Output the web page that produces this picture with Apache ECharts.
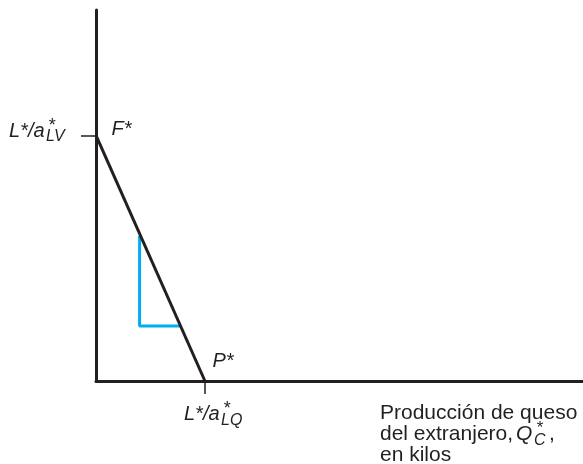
<!DOCTYPE html>
<html>
<head>
<meta charset="utf-8">
<script src="https://cdn.jsdelivr.net/npm/echarts@6/dist/echarts.min.js"></script>
<style>
  html, body { margin: 0; padding: 0; background: #fff; }
  #chart { width: 583px; height: 464px; }
</style>
</head>
<body>
<div id="chart"></div>
<script>
/* ---------- data ---------- */
// frontier from F* (on the vertical axis) to P* (on the horizontal axis)
const frontier = [[0, 1], [1, 0]];
const pointLabels = ['F*', 'P*'];
// blue slope triangle under the frontier
const slopeTriangle = [[0.40, 0.59], [0.40, 0.224], [0.77, 0.224]];
// intercept ticks
const xTicks = [1];
const yTicks = [1];

const ink = '#231f20';
const blue = '#00aeef';
const fam = '"Liberation Sans", Arial, Helvetica, sans-serif';

/* ---------- chart ---------- */
const chart = echarts.init(document.getElementById('chart'));

chart.setOption({
  animation: false,
  grid: { left: 96, right: 0, top: 10, bottom: 83 },
  xAxis: {
    type: 'value',
    min: 0,
    max: 4.47,
    splitLine: { show: false },
    axisLine: { show: true, lineStyle: { color: ink, width: 3 } },
    axisTick: { show: true, customValues: xTicks, length: 13, lineStyle: { color: ink, width: 1.5 } },
    axisLabel: { show: false }
  },
  yAxis: {
    type: 'value',
    min: 0,
    max: 1.51,
    splitLine: { show: false },
    axisLine: { show: true, lineStyle: { color: ink, width: 3 } },
    axisTick: { show: true, customValues: yTicks, length: 15, lineStyle: { color: ink, width: 1.5 } },
    axisLabel: { show: false }
  },
  series: [
    {
      type: 'line',
      data: frontier,
      symbol: 'none',
      lineStyle: { color: ink, width: 3 },
      z: 3
    },
    {
      type: 'line',
      data: slopeTriangle,
      symbol: 'none',
      lineStyle: { color: blue, width: 3 },
      z: 2
    },
    {
      type: 'scatter',
      data: frontier,
      symbolSize: 1,
      itemStyle: { color: 'rgba(0,0,0,0)', opacity: 1 },
      label: {
        show: true,
        formatter: (p) => pointLabels[p.dataIndex],
        fontFamily: fam,
        fontStyle: 'italic',
        fontSize: 20,
        color: ink,
        opacity: 1,
        position: 'right'
      },
      labelLayout: (p) => (p.dataIndex === 0 ? { dx: 10, dy: -6 } : { dx: 2, dy: -20 })
    }
  ],
  graphic: [
    // y intercept label  L*/a*_LV
    { type: 'text', x: 9, y: 121, style: { text: 'L*/a', font: 'italic 20px ' + fam, fill: ink } },
    { type: 'text', x: 48, y: 117, style: { text: '*', font: 'italic 18px ' + fam, fill: ink } },
    { type: 'text', x: 46, y: 129, style: { text: 'LV', font: 'italic 16px ' + fam, fill: ink } },
    // x intercept label  L*/a*_LQ
    { type: 'text', x: 184, y: 404, style: { text: 'L*/a', font: 'italic 20px ' + fam, fill: ink } },
    { type: 'text', x: 223, y: 400, style: { text: '*', font: 'italic 18px ' + fam, fill: ink } },
    { type: 'text', x: 221, y: 413, style: { text: 'LQ', font: 'italic 16px ' + fam, fill: ink } },
    // axis title
    { type: 'text', x: 380, y: 403, style: { text: 'Producción de queso', font: '21px ' + fam, fill: ink } },
    { type: 'text', x: 380, y: 424, style: { text: 'del extranjero,', font: '21px ' + fam, fill: ink } },
    { type: 'text', x: 516, y: 424, style: { text: 'Q', font: 'italic 21px ' + fam, fill: ink } },
    { type: 'text', x: 536, y: 420, style: { text: '*', font: 'italic 17px ' + fam, fill: ink } },
    { type: 'text', x: 534, y: 433, style: { text: 'C', font: 'italic 16px ' + fam, fill: ink } },
    { type: 'text', x: 549, y: 424, style: { text: ',', font: '21px ' + fam, fill: ink } },
    { type: 'text', x: 380, y: 445, style: { text: 'en kilos', font: '21px ' + fam, fill: ink } }
  ]
});
</script>
</body>
</html>
